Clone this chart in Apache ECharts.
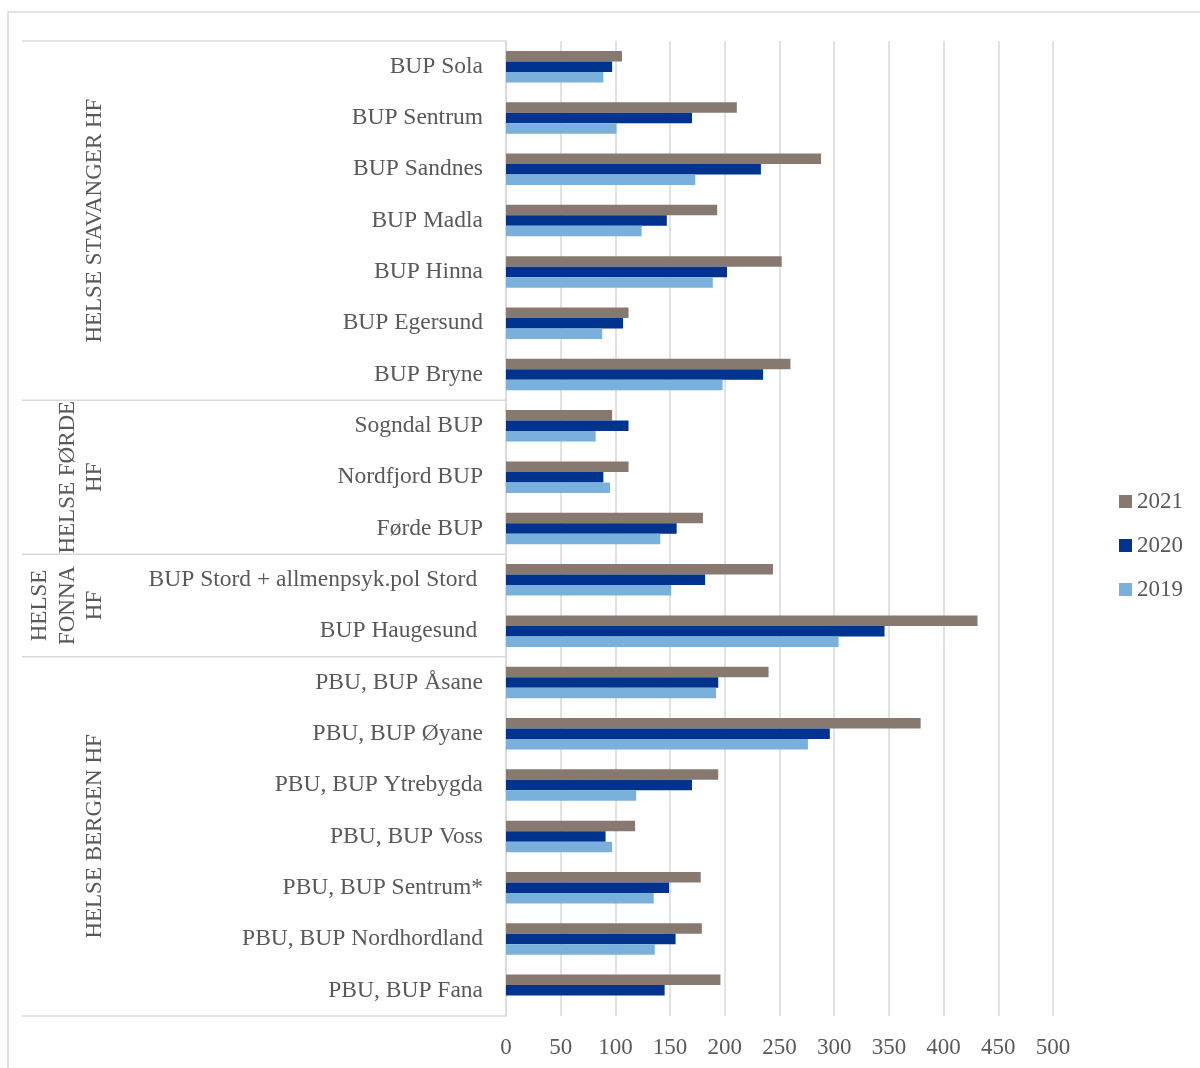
<!DOCTYPE html>
<html>
<head>
<meta charset="utf-8">
<script src="https://cdn.jsdelivr.net/npm/echarts@6/dist/echarts.min.js"></script>
<style>
  html, body { margin: 0; padding: 0; background: #fff; }
  #chart { width: 1200px; height: 1068px; }
</style>
</head>
<body>
<div id="chart"></div>
<script>
var categories = [
  "BUP Sola", "BUP Sentrum", "BUP Sandnes", "BUP Madla", "BUP Hinna", "BUP Egersund", "BUP Bryne",
  "Sogndal BUP", "Nordfjord BUP", "Førde BUP",
  "BUP Stord + allmenpsyk.pol Stord ", "BUP Haugesund ",
  "PBU, BUP Åsane", "PBU, BUP Øyane", "PBU, BUP Ytrebygda", "PBU, BUP Voss",
  "PBU, BUP Sentrum*", "PBU, BUP Nordhordland", "PBU, BUP Fana"
];
var values2021 = [106, 211, 288, 193, 252, 112, 260, 97, 112, 180, 244, 431, 240, 379, 194, 118, 178, 179, 196];
var values2020 = [97, 170, 233, 147, 202, 107, 235, 112, 89, 156, 182, 346, 194, 296, 170, 91, 149, 155, 145];
var values2019 = [89, 101, 173, 124, 189, 88, 198, 82, 95, 141, 151, 304, 192, 276, 119, 97, 135, 136, null];
var groupNames = ["HELSE STAVANGER HF", "HELSE FØRDE\nHF", "HELSE\nFONNA\nHF", "HELSE BERGEN HF"];
var groupSizes = [7, 3, 2, 7];
var xTicks = [0, 50, 100, 150, 200, 250, 300, 350, 400, 450, 500];

var font = "Liberation Serif";
var textColor = "#595959";
var lineColor = "#d9d9d9";

var chart = echarts.init(document.getElementById("chart"));

function barSeries(name, data, color) {
  return {
    name: name,
    type: "bar",
    data: data,
    barWidth: 10.5,
    barGap: "0%",
    itemStyle: { color: color },
    animation: false
  };
}

chart.setOption({
  animation: false,
  grid: { left: 506, right: 147, top: 41, bottom: 52 },
  legend: {
    orient: "vertical",
    left: 1114,
    top: 485,
    itemWidth: 13,
    itemHeight: 13,
    itemGap: 21,
    icon: "rect",
    textStyle: { fontFamily: font, fontSize: 23, color: textColor },
    data: ["2021", "2020", "2019"]
  },
  xAxis: {
    type: "value",
    min: xTicks[0],
    max: xTicks[xTicks.length - 1],
    interval: xTicks[1] - xTicks[0],
    axisLine: { show: false },
    axisTick: { show: false },
    splitLine: { lineStyle: { color: lineColor, width: 1.5 } },
    axisLabel: { fontFamily: font, fontSize: 23, color: textColor, margin: 20 }
  },
  yAxis: {
    type: "category",
    inverse: true,
    data: categories,
    axisLine: { lineStyle: { color: lineColor, width: 1.5 } },
    axisTick: { show: false },
    axisLabel: { fontFamily: font, fontSize: 23.5, color: textColor, margin: 23 }
  },
  series: [
    barSeries("2021", values2021, "#877970"),
    barSeries("2020", values2020, "#00338d"),
    barSeries("2019", values2019, "#7ab1dc")
  ]
});

// group labels and separators to the left of the category labels
function drawGroups() {
  var y0 = chart.convertToPixel({ yAxisIndex: 0 }, 0);
  var y1 = chart.convertToPixel({ yAxisIndex: 0 }, 1);
  var band = y1 - y0;
  var axisX = chart.convertToPixel({ xAxisIndex: 0 }, 0);
  var elements = [
    {
      type: "rect",
      shape: { x: 8, y: 12, width: 1300, height: 1200 },
      style: { fill: "none", stroke: lineColor, lineWidth: 1.5 },
      silent: true
    }
  ];
  var start = 0;
  var top = y0 - band / 2;
  elements.push({
    type: "line",
    shape: { x1: 22, y1: top, x2: axisX, y2: top },
    style: { stroke: lineColor, lineWidth: 1.5 }
  });
  for (var i = 0; i < groupNames.length; i++) {
    var a = chart.convertToPixel({ yAxisIndex: 0 }, start) - band / 2;
    var b = chart.convertToPixel({ yAxisIndex: 0 }, start + groupSizes[i] - 1) + band / 2;
    var lines = groupNames[i].split("\n").length;
    elements.push({
      type: "line",
      shape: { x1: 22, y1: b, x2: axisX, y2: b },
      style: { stroke: lineColor, lineWidth: 1.5 }
    });
    elements.push({
      type: "text",
      x: 95 - (lines - 1) * 27.5 / 2,
      y: (a + b) / 2,
      rotation: Math.PI / 2,
      style: {
        text: groupNames[i],
        fontFamily: font,
        fontSize: 23,
        lineHeight: 27.5,
        fill: textColor,
        align: "center",
        verticalAlign: "middle"
      }
    });
    start += groupSizes[i];
  }
  chart.setOption({ graphic: { elements: elements } });
}

drawGroups();
</script>
</body>
</html>
